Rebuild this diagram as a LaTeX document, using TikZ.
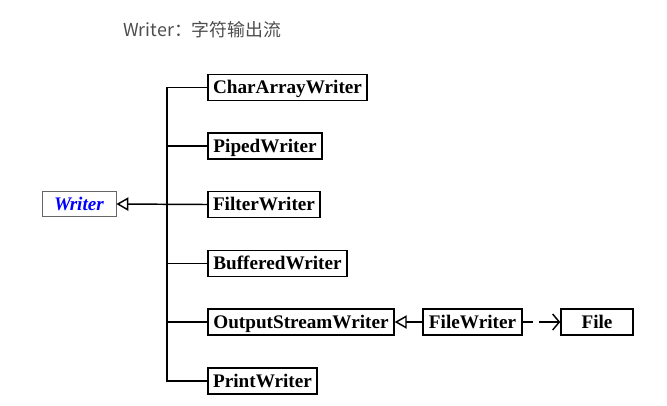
\documentclass[tikz,border=0pt]{standalone}
\usepackage{fontspec}
\setmainfont{Liberation Serif}
\newfontfamily\cjk{Noto Sans CJK SC}
\usetikzlibrary{arrows.meta}
\definecolor{titlegray}{RGB}{77,77,77}
\definecolor{wblue}{RGB}{0,0,255}
\begin{document}
\begin{tikzpicture}[x=0.75pt,y=-0.75pt,
  cls/.style={draw=black,line width=1.1pt,inner sep=0pt,minimum height=19.5pt,
    font=\fontsize{14.4}{16}\selectfont\bfseries,anchor=center,fill=white,
    text height=11pt,text depth=1.5pt},
  bw/.style={minimum width=#1*0.75pt},
  conn/.style={line width=1.1pt},
  inh/.style={conn,-{Triangle[open,length=9pt,width=10pt,fill=white]}},
  dep/.style={conn,dash pattern=on 7.5pt off 4.5pt on 30pt off 1pt,-{Straight Barb[length=5pt,width=12pt]}}]
\useasboundingbox (0,0) rectangle (667,405);
\node[anchor=west,text=titlegray,font=\cjk\fontsize{13.4}{15}\selectfont,inner sep=0pt] (title) at (123,30) {Writer：字符输出流};
\node[draw=black!60,line width=0.6pt,inner sep=0pt,minimum width=55.5pt,minimum height=19pt,
  text height=11pt,text depth=1.5pt,
  font=\fontsize{14.4}{16}\selectfont\bfseries\itshape,text=wblue] (W) at (79,204) {Writer};
\node[cls,bw=159] (CA) at (287.5,87.5) {CharArrayWriter};
\node[cls,bw=114] (PW) at (265,146) {PipedWriter};
\node[cls,bw=112] (FW) at (264,204.5) {FilterWriter};
\node[cls,bw=139] (BW) at (277.5,263.5) {BufferedWriter};
\node[cls,bw=186] (OSW) at (301,322) {OutputStreamWriter};
\node[cls,bw=109] (PrW) at (262.5,381) {PrintWriter};
\node[cls,bw=99] (FiW) at (472.5,322) {FileWriter};
\node[cls,bw=72] (F) at (597,322) {File};
\coordinate (spine) at (167,0);
\draw[conn] (CA.west) -- (CA.west -| spine) -- (PrW.west -| spine) -- (PrW.west);
\draw[conn] (PW.west) -- (PW.west -| spine);
\draw[conn] (BW.west) -- (BW.west -| spine);
\draw[conn] (OSW.west) -- (OSW.west -| spine);
\draw[inh] (FW.west) -- (W.east);
\draw[inh] (FiW.west) -- (OSW.east);
\draw[dep] (FiW.east) -- (F.west);
\end{tikzpicture}
\end{document}
